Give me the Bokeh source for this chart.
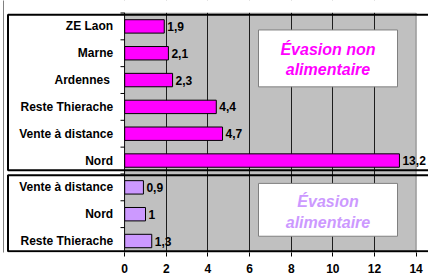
from bokeh.plotting import figure
from bokeh.models import FixedTicker, Range1d, ColumnDataSource
from bokeh.core.properties import value
from bokeh.embed import file_html
from bokeh.resources import INLINE

# ---------------- data ----------------
categories = ["ZE Laon", "Marne", "Ardennes ", "Reste Thierache", "Vente à distance", "Nord",
              "Vente à distance", "Nord", "Reste Thierache"]
values = [1.9, 2.1, 2.3, 4.4, 4.7, 13.2, 0.9, 1.0, 1.3]
value_labels = ["1,9", "2,1", "2,3", "4,4", "4,7", "13,2", "0,9", "1", "1,3"]
groups = ["non", "non", "non", "non", "non", "non", "alim", "alim", "alim"]
x_ticks = [0, 2, 4, 6, 8, 10, 12, 14]
group_title_non = ["Évasion non", "alimentaire"]
group_title_alim = ["Évasion", "alimentaire"]

# ---------------- styles / layout ----------------
MAGENTA = "#FF00FF"
LILAC = "#CC99FF"
GRAY = "#C0C0C0"
FONT = "Liberation Sans"
W, H = 428, 275
FRAME_BOTTOM = 248

# pixel layout helpers (figure pixel coordinates)
X0_PX, X14_PX = 124.2, 415.6
PPU = (X14_PX - X0_PX) / 14.0
Y0_PX, ROW_PX = 249.9, 26.4


def dx(px):
    return (px - X0_PX) / PPU


def dy(py):
    return (Y0_PX - py) / ROW_PX


n = len(categories)
rows = [n - 0.5 - i for i in range(n)]
colors = [MAGENTA if g == "non" else LILAC for g in groups]

src = ColumnDataSource(dict(y=rows, v=values, cat=categories, lab=value_labels, c=colors))

p = figure(width=W, height=H, output_backend="svg", toolbar_location=None,
           x_range=Range1d(dx(0), dx(W)), y_range=Range1d(dy(FRAME_BOTTOM), dy(0)),
           min_border_left=0, min_border_right=0, min_border_top=0, min_border_bottom=0)
p.outline_line_color = None
p.background_fill_color = "white"
p.border_fill_color = "white"
p.yaxis.visible = False
p.ygrid.visible = False

# gray plot area (below the grid)
bg = p.quad(left=0, right=x_ticks[-1], bottom=dy(252), top=dy(12),
            fill_color=GRAY, line_color="#808080", line_width=1)
bg.level = "image"

# vertical grid
p.xgrid.ticker = FixedTicker(ticks=x_ticks[:-1])
p.xgrid.grid_line_color = "#000000"
p.xgrid.grid_line_width = 1
p.xgrid.grid_line_alpha = 0.85

# white strip above the gray area (hides grid there)
p.quad(left=dx(-5), right=dx(W + 5), bottom=dy(12), top=dy(-5), fill_color="white", line_color=None)

# outer left rule
p.segment(x0=dx(3), x1=dx(3), y0=dy(-5), y1=dy(FRAME_BOTTOM + 5), line_color="#808080", line_width=1)

# y-axis small ticks at row boundaries
bounds = [float(k) for k in range(n + 1)]
p.segment(x0=[dx(120)] * len(bounds), x1=[0] * len(bounds), y0=bounds, y1=bounds,
          line_color="black", line_width=1)

# bars
p.hbar(y="y", left=0, right="v", height=0.5, source=src,
       fill_color="c", line_color="black", line_width=1)

# value labels
p.text(x="v", y="y", text="lab", source=src, x_offset=3,
       text_align="left", text_baseline="middle",
       text_font=value(FONT), text_font_style="bold", text_font_size="12px", text_color="black")

# category labels
p.text(x=0, y="y", text="cat", source=src, x_offset=-11.5,
       text_align="right", text_baseline="middle",
       text_font=value(FONT), text_font_style="bold", text_font_size="12px", text_color="black")

# group frames
p.quad(left=[dx(7.5), dx(7.5)], right=[dx(W + 10), dx(W + 10)],
       top=[dy(14), dy(172)], bottom=[dy(167), dy(246.7)],
       fill_color=None, line_color="black", line_width=2)

# group title boxes
p.quad(left=[dx(258), dx(258)], right=[dx(397), dx(397)],
       top=[dy(29), dy(180)], bottom=[dy(85), dy(232)],
       fill_color="white", line_color="#808080", line_width=1)
p.text(x=[dx(327.5)] * 2, y=[dy(48), dy(68)], text=group_title_non,
       text_align="center", text_baseline="middle", text_color=MAGENTA,
       text_font=value(FONT), text_font_style="bold italic", text_font_size="16px")
p.text(x=[dx(327.5)] * 2, y=[dy(197.5), dy(218)], text=group_title_alim,
       text_align="center", text_baseline="middle", text_color=LILAC,
       text_font=value(FONT), text_font_style="bold italic", text_font_size="16px")

# x axis
ax = p.xaxis[0]
ax.ticker = FixedTicker(ticks=x_ticks)
ax.axis_line_color = None
ax.major_tick_line_color = "black"
ax.major_tick_out = 4
ax.major_tick_in = 0
ax.minor_tick_line_color = None
ax.major_label_standoff = 7
ax.major_label_text_font = FONT
ax.major_label_text_font_style = "bold"
ax.major_label_text_font_size = "12px"
ax.major_label_text_color = "black"

open("out.html", "w").write(file_html(p, INLINE))
